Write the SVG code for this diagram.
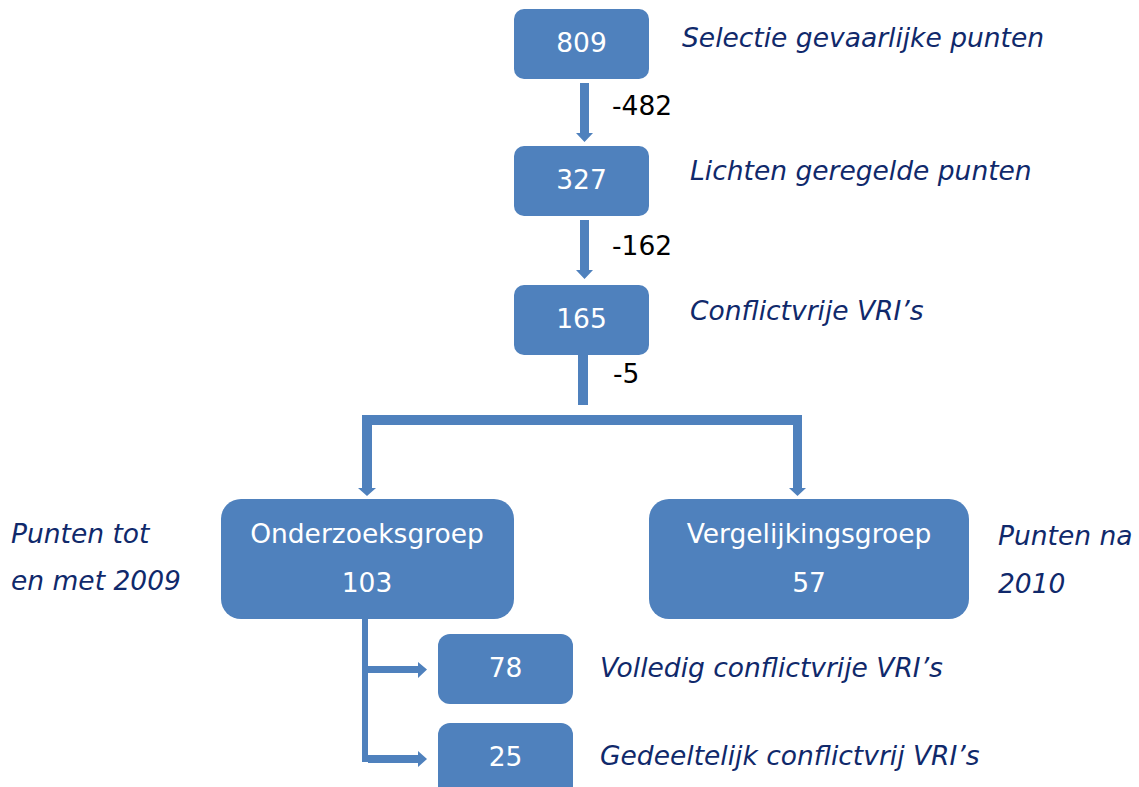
<svg xmlns="http://www.w3.org/2000/svg" width="1139" height="787" viewBox="0 0 1139 787">
<style>
.box{fill:#4F81BD}
.bt{fill:#FFFFFF;font-family:"DejaVu Sans",Verdana,sans-serif;font-size:26.5px;text-anchor:middle}
.lab{fill:#10296B;font-family:"DejaVu Sans",Verdana,sans-serif;font-size:26.5px;font-style:italic}
.num{fill:#000000;font-family:"DejaVu Sans",Verdana,sans-serif;font-size:26.5px}
.c{fill:#4F81BD}
</style>
<rect width="1139" height="787" fill="#FFFFFF"/>
<g id="connectors">
<polygon class="c" points="580,83 589,83 589,133 593,133 584.5,142 576,133 580,133"/>
<polygon class="c" points="580,220 589,220 589,270 593,270 584.5,279 576,270 580,270"/>
<rect class="c" x="578" y="355" width="10" height="50"/>
<polygon class="c" points="362,415 802,415 802,488 806,488 797.5,496 789,488 793,488 793,425 372,425 372,488 376,488 367,496 358,488 362,488"/>
<rect class="c" x="362" y="608" width="6" height="154"/>
<polygon class="c" points="368,666 418,666 418,662 427,669.5 418,678 418,673 368,673"/>
<polygon class="c" points="368,755 418,755 418,751 427,759 418,767 418,763 368,763"/>
</g>
<g id="n809"><rect class="box" x="514" y="9" width="135" height="70" rx="10"/><text class="bt" x="581.5" y="52">809</text></g>
<g id="n327"><rect class="box" x="514" y="146" width="135" height="70" rx="10"/><text class="bt" x="581.5" y="189">327</text></g>
<g id="n165"><rect class="box" x="514" y="285" width="135" height="70" rx="10"/><text class="bt" x="581.5" y="328">165</text></g>
<g id="nOnderzoek"><rect class="box" x="221" y="499" width="293" height="120" rx="20"/><text class="bt" x="367" y="543">Onderzoeksgroep</text><text class="bt" x="367" y="592">103</text></g>
<g id="nVergelijk"><rect class="box" x="649" y="499" width="320" height="120" rx="20"/><text class="bt" x="809" y="543">Vergelijkingsgroep</text><text class="bt" x="809" y="592">57</text></g>
<g id="n78"><rect class="box" x="438" y="634" width="135" height="70" rx="12"/><text class="bt" x="505.5" y="677">78</text></g>
<g id="n25"><rect class="box" x="438" y="723" width="135" height="75" rx="12"/><text class="bt" x="505.5" y="766">25</text></g>
<g id="labels">
<text class="lab" x="682" y="47">Selectie gevaarlijke punten</text>
<text class="num" x="612" y="115">-482</text>
<text class="lab" x="690" y="180">Lichten geregelde punten</text>
<text class="num" x="612" y="255">-162</text>
<text class="lab" x="690" y="320">Conflictvrije VRI’s</text>
<text class="num" x="613" y="383">-5</text>
<text class="lab" x="11" y="543">Punten tot</text>
<text class="lab" x="11" y="590">en met 2009</text>
<text class="lab" x="998" y="545">Punten na</text>
<text class="lab" x="998" y="593">2010</text>
<text class="lab" x="600" y="677">Volledig conflictvrije VRI’s</text>
<text class="lab" x="600" y="765">Gedeeltelijk conflictvrij VRI’s</text>
</g>
</svg>
